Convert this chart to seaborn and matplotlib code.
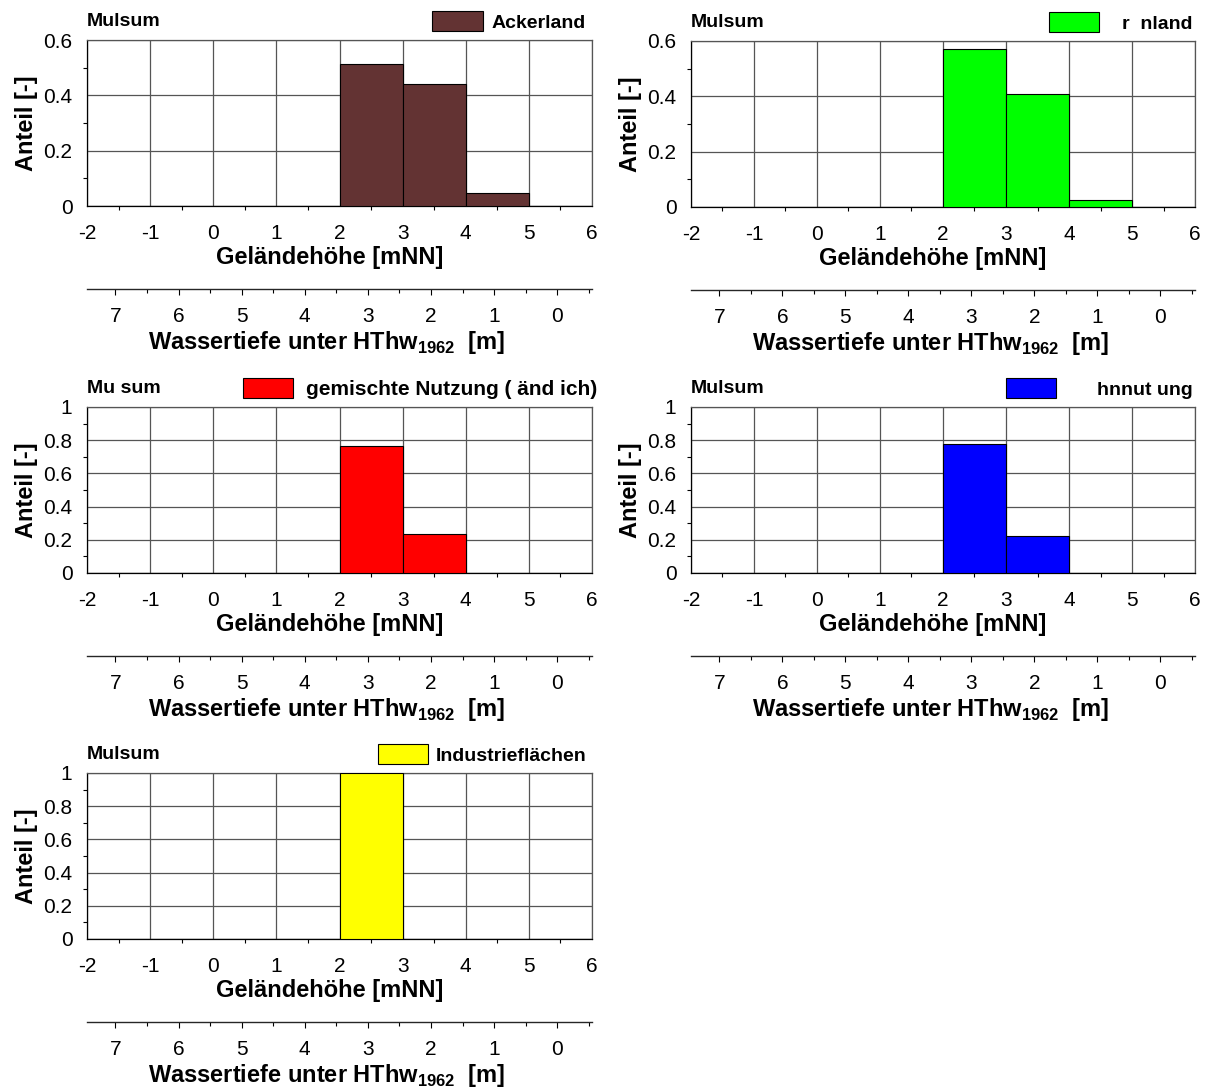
import matplotlib
matplotlib.use("Agg")
import matplotlib.pyplot as plt
import matplotlib.ticker as mticker
import seaborn as sns

# data
bin_edges = [-2, -1, 0, 1, 2, 3, 4, 5, 6]
bin_centers = [-1.5, -0.5, 0.5, 1.5, 2.5, 3.5, 4.5, 5.5]
ackerland = [0, 0, 0, 0, 0.515, 0.44, 0.047, 0]
gruenland = [0, 0, 0, 0, 0.57, 0.41, 0.025, 0]
gemischt = [0, 0, 0, 0, 0.765, 0.235, 0, 0]
wohnen = [0, 0, 0, 0, 0.775, 0.225, 0, 0]
industrie = [0, 0, 0, 0, 1.0, 0, 0, 0]

station_labels = ["Mulsum", "Mulsum", "Mu sum", "Mulsum", "Mulsum"]
legend_labels = ["Ackerland", "r  nland", "gemischte Nutzung ( änd ich)",
                 "hnnut ung", "Industrieflächen"]
series = [ackerland, gruenland, gemischt, wohnen, industrie]
colors = ["#633333", "#00ff00", "#ff0000", "#0000ff", "#ffff00"]
y_max = [0.6, 0.6, 1, 1, 1]
hthw_1962 = 5.45
depth_ticks = [0, 1, 2, 3, 4, 5, 6, 7]

sns.set_style("white")
plt.rcParams["font.family"] = ["Liberation Sans", "DejaVu Sans"]
plt.rcParams["axes.unicode_minus"] = False
plt.rcParams["mathtext.fontset"] = "custom"
plt.rcParams["mathtext.rm"] = "Liberation Sans"
plt.rcParams["mathtext.bf"] = "Liberation Sans:bold"
for key in ["text.color", "axes.labelcolor", "xtick.color", "ytick.color"]:
    plt.rcParams[key] = "black"

fig = plt.figure(figsize=(12.11, 10.92), dpi=100)
W, H = 1211, 1092
# left, top, right, bottom in pixels
boxes = [(87, 40, 592, 206), (691, 41, 1195, 207),
         (87, 407, 592, 573), (691, 407, 1195, 573),
         (87, 773, 592, 939)]
text_pads = [0.45, 1.2, 0.6, 2.1, 0.4]
legend_right = [0.988, 0.996, 1.01, 0.996, 0.99]
legend_size = [14, 14, 15, 14, 14]

for i in range(5):
    l, t, r, b = boxes[i]
    ax = fig.add_axes([l / W, 1 - b / H, (r - l) / W, (b - t) / H])
    sns.histplot(x=bin_centers, weights=series[i], bins=bin_edges,
                 color=colors[i], edgecolor="black", linewidth=0.8,
                 alpha=1, ax=ax, label=legend_labels[i], zorder=3)
    ax.set_xlim(-2, 6)
    ax.set_ylim(0, y_max[i])
    ax.xaxis.set_major_locator(mticker.MultipleLocator(1))
    ax.xaxis.set_minor_locator(mticker.MultipleLocator(0.5))
    ax.yaxis.set_major_locator(mticker.MultipleLocator(0.2))
    ax.yaxis.set_minor_locator(mticker.MultipleLocator(0.1))
    ax.yaxis.set_major_formatter(mticker.FuncFormatter(lambda v, p: f"{v:g}"))
    ax.grid(True, which="major", color="#555555", linewidth=0.9, zorder=0)
    ax.set_axisbelow(True)
    for s in ax.spines.values():
        s.set_color("#555555")
        s.set_linewidth(0.9)
    ax.spines["bottom"].set_color("black")
    ax.spines["left"].set_color("black")
    ax.tick_params(axis="x", which="major", direction="out", length=4,
                   width=0.8, labelsize=15, pad=9)
    ax.tick_params(axis="y", which="major", direction="out", length=4.5,
                   width=0.8, labelsize=15, pad=6)
    ax.tick_params(which="minor", direction="out", length=3, width=0.8,
                   left=True, bottom=True)
    ax.set_xlabel("Geländehöhe [mNN]", fontsize=17, fontweight="bold",
                  labelpad=2)
    ax.xaxis.label.set_x(0.48)
    ax.set_ylabel("Anteil [-]", fontsize=17, fontweight="bold", labelpad=4)

    sec = ax.secondary_xaxis(-0.5, functions=(lambda x: hthw_1962 - x,
                                               lambda d: hthw_1962 - d))
    sec.set_xticks(depth_ticks)
    sec.xaxis.set_minor_locator(mticker.MultipleLocator(0.5))
    sec.tick_params(which="major", direction="out", length=4, width=0.8,
                    labelsize=15, pad=9)
    sec.tick_params(which="minor", direction="out", length=3, width=0.8)
    sec.spines["bottom"].set_linewidth(1.0)
    sec.set_xlabel("Wassertiefe unter HThw$_{\\mathbf{1962}}$  [m]",
                   fontsize=17, fontweight="bold", labelpad=2)
    sec.xaxis.label.set_x(0.475)

    ax.text(0, 1 + 14 / (b - t), station_labels[i], transform=ax.transAxes,
            fontsize=14, fontweight="bold", ha="left", va="baseline")
    ax.legend(loc="center right",
              bbox_to_anchor=(legend_right[i], 1 + 18.5 / (b - t)),
              frameon=False, prop={"weight": "bold", "size": legend_size[i]},
              handlelength=2.6 * 14 / legend_size[i],
              handleheight=1.2 * 14 / legend_size[i],
              handletextpad=text_pads[i], borderpad=0, borderaxespad=0)

fig.savefig("out.png", dpi=100)
